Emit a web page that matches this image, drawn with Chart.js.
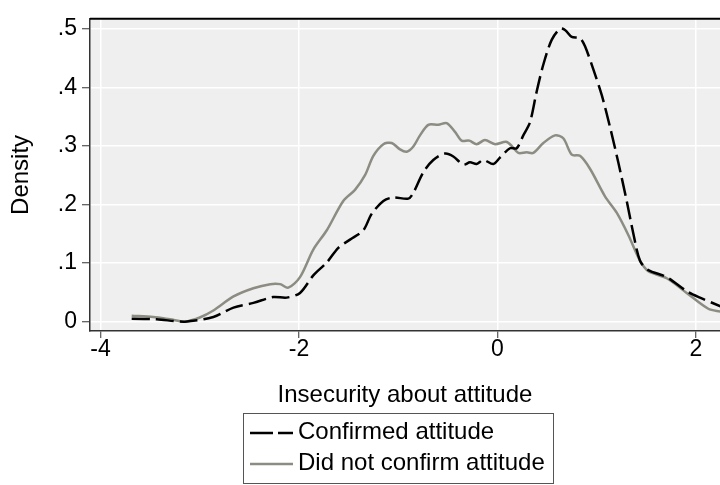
<!DOCTYPE html>
<html>
<head>
<meta charset="utf-8">
<script src="https://cdn.jsdelivr.net/npm/chart.js@4/dist/chart.umd.min.js"></script>
<style>
	html, body { margin: 0; padding: 0; background: #fff; }
	canvas { display: block; }
</style>
</head>
<body>
<canvas id="density_chart" width="720" height="485"></canvas>
<script>
// series labels
const series_names = ['Confirmed attitude', 'Did not confirm attitude']

// kernel density, confirmed attitude
const confirmed_x = [
	-3.686, -3.434, -3.149, -2.863, -2.66, -2.46, -2.26, -2.124, -1.99, -1.856,
	-1.72, -1.604, -1.486, -1.352, -1.268, -1.15, -1.05, -0.899, -0.848, -0.748,
	-0.647, -0.529, -0.445, -0.345, -0.277, -0.21, -0.143, -0.042, 0.025, 0.126,
	0.193, 0.26, 0.327, 0.395, 0.462, 0.546, 0.63, 0.68, 0.748, 0.831,
	0.882, 0.965, 1.05, 1.134, 1.217, 1.302, 1.368, 1.436, 1.52, 1.705,
	1.906, 2.04, 2.25,
]
const confirmed_y = [
	0.005, 0.004, 0.0, 0.008, 0.024, 0.032, 0.042, 0.041, 0.049, 0.079,
	0.101, 0.126, 0.14, 0.156, 0.184, 0.206, 0.212, 0.21, 0.22, 0.255,
	0.276, 0.287, 0.282, 0.268, 0.272, 0.269, 0.276, 0.269, 0.28, 0.296,
	0.296, 0.318, 0.34, 0.393, 0.439, 0.481, 0.5, 0.498, 0.486, 0.484,
	0.47, 0.431, 0.387, 0.332, 0.272, 0.206, 0.151, 0.104, 0.088, 0.076,
	0.052, 0.041, 0.026,
]

// kernel density, did not confirm attitude
const not_confirmed_x = [
	-3.686, -3.468, -3.3, -3.149, -3.0, -2.863, -2.66, -2.46, -2.29, -2.19,
	-2.108, -1.99, -1.856, -1.72, -1.554, -1.436, -1.335, -1.251, -1.15, -1.066,
	-0.982, -0.915, -0.848, -0.781, -0.697, -0.596, -0.512, -0.428, -0.361, -0.284,
	-0.21, -0.126, -0.025, 0.086, 0.143, 0.21, 0.294, 0.361, 0.462, 0.579,
	0.663, 0.748, 0.831, 0.932, 1.083, 1.201, 1.318, 1.436, 1.52, 1.705,
	1.906, 2.124, 2.25,
]
const not_confirmed_y = [
	0.01, 0.008, 0.004, 0.0, 0.007, 0.019, 0.043, 0.057, 0.064, 0.064,
	0.058, 0.076, 0.123, 0.156, 0.206, 0.225, 0.25, 0.283, 0.303, 0.305,
	0.294, 0.29, 0.299, 0.318, 0.336, 0.336, 0.339, 0.324, 0.309, 0.309,
	0.303, 0.31, 0.303, 0.307, 0.3, 0.288, 0.289, 0.288, 0.305, 0.318,
	0.313, 0.285, 0.283, 0.261, 0.214, 0.186, 0.148, 0.104, 0.086, 0.074,
	0.049, 0.022, 0.017,
]

// ticks
const x_tick_values = [-4, -2, 0, 2]
const x_tick_labels = ['-4', '-2', '0', '2']
const y_tick_values = [0, 0.1, 0.2, 0.3, 0.4, 0.5]
const y_tick_labels = ['0', '.1', '.2', '.3', '.4', '.5']

const font_family = "'Liberation Sans', Arial, sans-serif"
const gray_line = '#8c8c82'

Chart.defaults.font.family = font_family
Chart.defaults.color = '#000'

const to_points = (xs, ys) => xs.map((x, i) => ({ x: x, y: ys[i] }))

// plot region background + top frame line
const plot_region = {
	id: 'plot_region',
	beforeDraw(chart) {
		const { ctx, chartArea: a } = chart
		ctx.save()
		ctx.fillStyle = '#efefef'
		ctx.fillRect(a.left, a.top, a.right - a.left, a.bottom - a.top)
		ctx.restore()
	},
	afterDraw(chart) {
		const { ctx, chartArea: a } = chart
		ctx.save()
		ctx.strokeStyle = '#000'
		ctx.lineWidth = 2
		ctx.beginPath()
		ctx.moveTo(a.left, a.top)
		ctx.lineTo(a.right, a.top)
		ctx.stroke()
		ctx.restore()
	},
}

// boxed legend below the axis title
const boxed_legend = {
	id: 'boxed_legend',
	afterDraw(chart) {
		const ctx = chart.ctx
		ctx.save()
		ctx.strokeStyle = '#555'
		ctx.lineWidth = 1
		ctx.strokeRect(243.5, 413.5, 310, 70)
		ctx.font = '24px ' + font_family
		ctx.textBaseline = 'middle'
		ctx.fillStyle = '#000'
		chart.data.datasets.forEach((ds, i) => {
			const y = 433 + i * 31
			ctx.strokeStyle = ds.borderColor
			ctx.lineWidth = 2.5
			ctx.setLineDash(i === 0 ? [23, 5] : [])
			ctx.beginPath()
			ctx.moveTo(250, y)
			ctx.lineTo(293, y)
			ctx.stroke()
			ctx.fillText(ds.label, 298, y - 1)
		})
		ctx.restore()
	},
}

// eslint-disable-next-line
const density_chart = new Chart(document.getElementById('density_chart'), {
	type: 'line',
	data: {
		datasets: [
			{
				label: series_names[0],
				data: to_points(confirmed_x, confirmed_y),
				borderColor: '#000',
				borderWidth: 2.5,
				borderDash: [18, 6],
				pointRadius: 0,
				tension: 0.3,
				fill: false,
			},
			{
				label: series_names[1],
				data: to_points(not_confirmed_x, not_confirmed_y),
				borderColor: gray_line,
				borderWidth: 2.5,
				pointRadius: 0,
				tension: 0.3,
				fill: false,
			},
		],
	},
	options: {
		responsive: false,
		animation: false,
		devicePixelRatio: 1,
		layout: { padding: { top: 8, right: 0, left: 0, bottom: 0 } },
		plugins: {
			legend: { display: false },
			tooltip: { enabled: false },
		},
		scales: {
			x: {
				type: 'linear',
				min: -4.106,
				max: 2.242,
				afterBuildTicks: (scale) => {
					scale.ticks = x_tick_values.map((v) => ({ value: v }))
				},
				afterFit: (scale) => {
					scale.height = 154
				},
				ticks: {
					font: { size: 23 },
					padding: -2,
					maxRotation: 0,
					autoSkip: false,
					callback: (value, index) => x_tick_labels[index],
				},
				grid: {
					color: '#fff',
					lineWidth: 1.5,
					tickColor: '#333',
					tickWidth: 1,
					tickLength: 7,
				},
				border: { display: true, color: '#333', width: 1.5 },
				title: {
					display: true,
					text: 'Insecurity about attitude',
					font: { size: 24 },
					padding: { top: 0, bottom: 75.6 },
				},
			},
			y: {
				type: 'linear',
				min: -0.016,
				max: 0.517,
				afterBuildTicks: (scale) => {
					scale.ticks = y_tick_values.map((v) => ({ value: v }))
				},
				afterFit: (scale) => {
					scale.width = 90
				},
				ticks: {
					font: { size: 23 },
					padding: 5,
					autoSkip: false,
					callback: (value, index) => y_tick_labels[index],
				},
				grid: {
					color: '#fff',
					lineWidth: 1.5,
					tickColor: '#333',
					tickWidth: 1,
					tickLength: 8,
				},
				border: { display: true, color: '#333', width: 1.5 },
				title: {
					display: true,
					text: 'Density',
					font: { size: 24 },
					padding: { top: 6.6, bottom: 0 },
				},
			},
		},
	},
	plugins: [plot_region, boxed_legend],
})
</script>
</body>
</html>
